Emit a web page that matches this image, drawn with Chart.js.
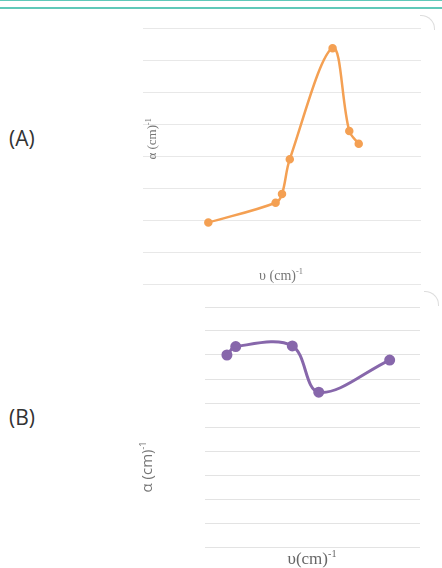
<!DOCTYPE html>
<html>
<head>
<meta charset="utf-8">
<script src="https://cdn.jsdelivr.net/npm/chart.js@4.4.0/dist/chart.umd.min.js"></script>
<style>
  body { margin: 0; width: 442px; height: 568px; background: #fff; position: relative; overflow: hidden; }
  .bar { position: absolute; left: 0; width: 442px; background: #5fc9b9; }
  canvas { position: absolute; }
  .lbl { position: absolute; color: #333; font-family: "Open Sans", sans-serif; font-size: 21px; }
  .t { position: absolute; color: #777; white-space: nowrap; transform: translate(-50%, -50%); }
  .t sup { font-size: 0.6em; vertical-align: 0.7em; line-height: 0; }
  .rot { transform: translate(-50%, -50%) rotate(-90deg); }
  .corner { position: absolute; width: 14px; height: 14px; border-top: 1px solid #ddd; border-right: 1px solid #ddd; border-top-right-radius: 14px; }
</style>
</head>
<body>
<div class="bar" style="top:0;height:1px"></div>
<div class="bar" style="top:7px;height:2px"></div>
<div class="corner" style="left:420px;top:15px"></div>
<div class="corner" style="left:424px;top:291px"></div>

<div class="lbl" style="left:9px;top:124px">(A)</div>
<div class="lbl" style="left:9px;top:403px">(B)</div>

<canvas id="chartA" width="295" height="272" style="left:135px;top:20px"></canvas>
<canvas id="chartB" width="232" height="256" style="left:197px;top:299px"></canvas>

<div class="t rot" style="left:152px;top:139px;font-family:'Liberation Serif',serif;font-size:13px">α (cm)<sup>-1</sup></div>
<div class="t" style="left:281px;top:276px;font-family:'Liberation Serif',serif;font-size:14px">υ (cm)<sup>-1</sup></div>
<div class="t rot" style="left:146px;top:467px;font-family:'Open Sans',sans-serif;font-size:15px">α (cm)<sup>-1</sup></div>
<div class="t" style="left:312px;top:559px;font-family:'Liberation Serif',serif;font-size:17px;color:#666">υ(cm)<sup>-1</sup></div>

<script>
// chart A (orange)
const aX = [23.5, 47.7, 50.0, 52.8, 68.2, 74.2, 77.6];
const aY = [1.92, 2.54, 2.81, 3.90, 7.37, 4.78, 4.38];
// chart B (purple)
const bX = [10.2, 14.3, 40.6, 52.9, 85.9];
const bY = [8.0, 8.35, 8.38, 6.45, 7.79];

function pts(xs, ys) {
    return xs.map((x, i) => ({ x: x, y: ys[i] }));
}

function makeChart(id, xs, ys, color, yMax, radius, width, pad, gridColor) {
    new Chart(document.getElementById(id), {
        type: 'scatter',
        data: {
            datasets: [{
                data: pts(xs, ys),
                showLine: true,
                borderColor: color,
                backgroundColor: color,
                borderWidth: width,
                pointRadius: radius,
                pointHoverRadius: radius,
                tension: 0.35
            }]
        },
        options: {
            responsive: false,
            animation: false,
            layout: { padding: pad },
            plugins: { legend: { display: false }, tooltip: { enabled: false } },
            scales: {
                x: { type: 'linear', min: 0, max: 100, display: false },
                y: {
                    min: 0, max: yMax,
                    ticks: { display: false, stepSize: 1 },
                    grid: { color: gridColor, lineWidth: 1, drawTicks: false },
                    border: { display: false }
                }
            }
        }
    });
}

makeChart('chartA', aX, aY, '#f4a053', 8, 3, 2.5, { left: 8, top: 8, right: 9, bottom: 8 }, '#e8e8e8');
makeChart('chartB', bX, bY, '#8767ab', 10, 4, 3, { left: 8, top: 8, right: 9, bottom: 8 }, '#e3e3e3');
</script>
</body>
</html>
